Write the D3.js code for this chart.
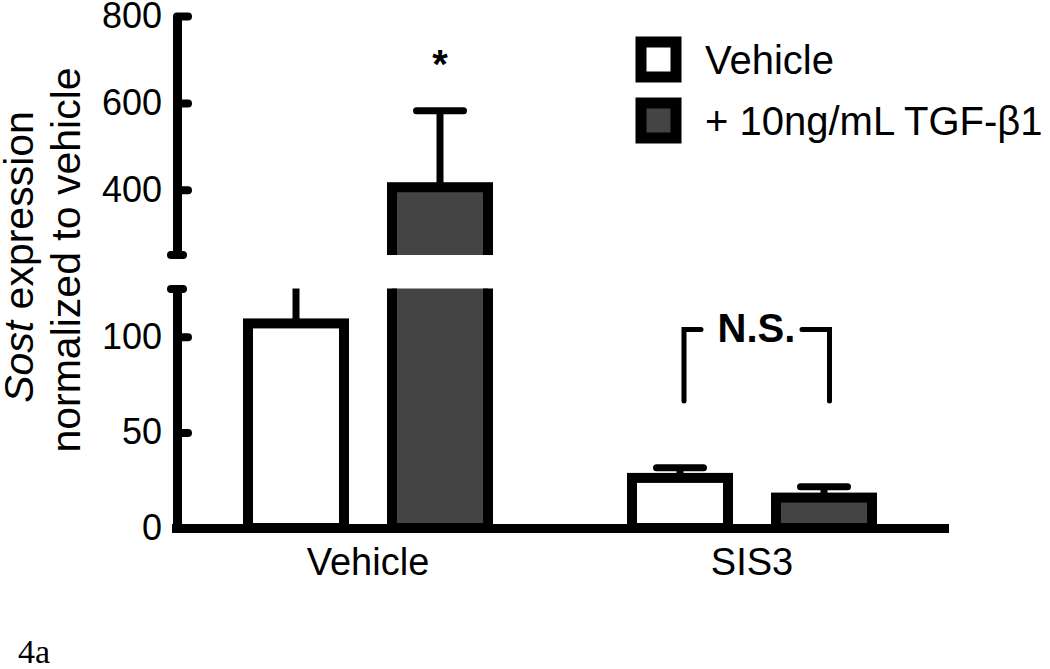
<!DOCTYPE html>
<html>
<head>
<meta charset="utf-8">
<script src="https://cdn.jsdelivr.net/npm/d3@7"></script>
<style>
  body { margin: 0; background: #fff; }
  text { font-family: "Liberation Sans", Arial, sans-serif; fill: #000; }
</style>
</head>
<body>
<script>
var w = 1050;
var h = 669;

// data
var groups = ["Vehicle", "SIS3"];
var series = ["Vehicle", "+ 10ng/mL TGF-\u03b21"];
var vehicleMeans = [107, 26.2];
var vehicleErr = [25, 5.3];
var tgfMeans = [406, 15.9];
var tgfErr = [176, 5.7];
var lowTicks = [0, 50, 100];
var highTicks = [400, 600, 800];
var lowMax = 125;   // top of lower axis segment
var highMin = 250;  // bottom of upper axis segment

var fills = ["#ffffff", "#444444"];

var rows = [];
groups.forEach(function (g, i) {
    rows.push({ group: g, series: series[0], mean: vehicleMeans[i], err: vehicleErr[i], fill: fills[0] });
    rows.push({ group: g, series: series[1], mean: tgfMeans[i], err: tgfErr[i], fill: fills[1] });
});

var svg = d3.select("body").append("svg").attr("width", w).attr("height", h);

var x0 = d3.scaleBand().domain(groups).range([176, 944]);
var x1 = d3.scaleBand().domain(series).range([72, 312]).paddingInner(1 / 3);
var yLo = d3.scaleLinear().domain([0, lowMax]).range([528, 289]);
var yHi = d3.scaleLinear().domain([highMin, 800]).range([255, 16]);

function cx(d) { return x0(d.group) + x1(d.series) + x1.bandwidth() / 2; }

var defs = svg.append("defs");
defs.append("clipPath").attr("id", "clipLo").append("rect")
    .attr("x", 0).attr("y", yLo(lowMax) - 0.5).attr("width", w).attr("height", 300);
defs.append("clipPath").attr("id", "clipHi").append("rect")
    .attr("x", 0).attr("y", 0).attr("width", w).attr("height", yHi(highMin));

var lo = svg.append("g").attr("clip-path", "url(#clipLo)");
var hi = svg.append("g").attr("clip-path", "url(#clipHi)");

// bars, lower segment
lo.selectAll("rect.bar").data(rows).enter().append("rect")
    .attr("class", "bar")
    .attr("x", function (d) { return x0(d.group) + x1(d.series); })
    .attr("width", x1.bandwidth())
    .attr("y", function (d) { return d.mean > lowMax ? yLo(lowMax) - 20 : yLo(d.mean); })
    .attr("height", function (d) { return yLo(0) - (d.mean > lowMax ? yLo(lowMax) - 20 : yLo(d.mean)); })
    .attr("fill", function (d) { return d.fill; })
    .attr("stroke", "#000").attr("stroke-width", 10);

// bars, upper segment
var tall = rows.filter(function (d) { return d.mean > highMin; });
hi.selectAll("rect.bar").data(tall).enter().append("rect")
    .attr("class", "bar")
    .attr("x", function (d) { return x0(d.group) + x1(d.series); })
    .attr("width", x1.bandwidth())
    .attr("y", function (d) { return yHi(d.mean); })
    .attr("height", function (d) { return yHi(highMin) + 20 - yHi(d.mean); })
    .attr("fill", function (d) { return d.fill; })
    .attr("stroke", "#000").attr("stroke-width", 10);

// error bars
function errorBars(g, data, y) {
    var eb = g.selectAll("g.err").data(data).enter().append("g").attr("class", "err");
    eb.append("line")
        .attr("x1", cx).attr("x2", cx)
        .attr("y1", function (d) { return y(d.mean); })
        .attr("y2", function (d) { return y(d.mean + d.err); })
        .attr("stroke", "#000").attr("stroke-width", 7);
    eb.append("line")
        .attr("x1", function (d) { return cx(d) - 23.5; })
        .attr("x2", function (d) { return cx(d) + 23.5; })
        .attr("y1", function (d) { return y(d.mean + d.err); })
        .attr("y2", function (d) { return y(d.mean + d.err); })
        .attr("stroke", "#000").attr("stroke-width", 7).attr("stroke-linecap", "round");
}
errorBars(lo, rows.filter(function (d) { return d.mean <= lowMax; }), yLo);
errorBars(hi, tall, yHi);

// axes
function styleAxis(g, size) {
    g.selectAll(".domain").attr("stroke", "#000").attr("stroke-width", 9);
    g.selectAll(".tick line").attr("stroke", "#000").attr("stroke-width", 8).attr("stroke-linecap", "round");
    g.selectAll(".tick text").attr("font-size", size).attr("font-family", "Liberation Sans, Arial, sans-serif").attr("fill", "#000");
}

var axLo = svg.append("g").attr("transform", "translate(177,0)")
    .call(d3.axisLeft(yLo).tickValues(lowTicks).tickSize(-11).tickSizeOuter(0).tickPadding(15));
styleAxis(axLo, 36);
var axHi = svg.append("g").attr("transform", "translate(177,0)")
    .call(d3.axisLeft(yHi).tickValues(highTicks).tickSize(-11).tickSizeOuter(0).tickPadding(15));
styleAxis(axHi, 36);

// break caps on the y axis
svg.selectAll("line.brk").data([yHi(highMin), yLo(lowMax)]).enter().append("line")
    .attr("class", "brk")
    .attr("x1", 171).attr("x2", 183)
    .attr("y1", function (d) { return d; }).attr("y2", function (d) { return d; })
    .attr("stroke", "#000").attr("stroke-width", 8).attr("stroke-linecap", "round");

var axX = svg.append("g").attr("transform", "translate(0," + yLo(0) + ")")
    .call(d3.axisBottom(x0).tickSize(0).tickSizeOuter(0).tickPadding(20));
styleAxis(axX, 38);
axX.select(".domain").attr("stroke-linecap", "square");

// y title
var yt = svg.append("text").attr("transform", "translate(33,257) rotate(-90)")
    .attr("text-anchor", "middle").attr("font-size", 41);
yt.append("tspan").attr("font-style", "italic").text("Sost");
yt.append("tspan").text(" expression");
svg.append("text").attr("transform", "translate(80,260) rotate(-90)")
    .attr("text-anchor", "middle").attr("font-size", 41)
    .text("normalized to vehicle");

// significance marks
var star = rows[1];
svg.append("text").attr("x", cx(star)).attr("y", yHi(star.mean + star.err) - 33)
    .attr("text-anchor", "middle").attr("font-size", 40).attr("font-weight", "bold").text("*");

var a = rows[2], b = rows[3];
var brY = 329.5, brBot = 401;
svg.append("path")
    .attr("d", "M" + (cx(a) + 4) + "," + brBot + "V" + brY + "H" + (cx(a) + 21))
    .attr("fill", "none").attr("stroke", "#000").attr("stroke-width", 5).attr("stroke-linecap", "round");
svg.append("path")
    .attr("d", "M" + (cx(b) - 22) + "," + brY + "H" + (cx(b) + 5.5) + "V" + brBot)
    .attr("fill", "none").attr("stroke", "#000").attr("stroke-width", 5).attr("stroke-linecap", "round");
svg.append("text").attr("x", (cx(a) + cx(b)) / 2 + 4.5).attr("y", 342)
    .attr("text-anchor", "middle").attr("font-size", 40).attr("font-weight", "bold").text("N.S.");

// legend
var leg = svg.selectAll("g.leg").data(series).enter().append("g")
    .attr("class", "leg")
    .attr("transform", function (d, i) { return "translate(641," + (42 + i * 61) + ")"; });
leg.append("rect").attr("width", 35).attr("height", 35)
    .attr("fill", function (d, i) { return fills[i]; })
    .attr("stroke", "#000").attr("stroke-width", 11);
leg.append("text").attr("x", 64).attr("y", 32).attr("font-size", 40).text(function (d) { return d; });

// panel label
svg.append("text").attr("x", 18).attr("y", 663)
    .style("font-family", "'Liberation Serif', 'Times New Roman', serif")
    .attr("font-size", 34).text("4a");
</script>
</body>
</html>
